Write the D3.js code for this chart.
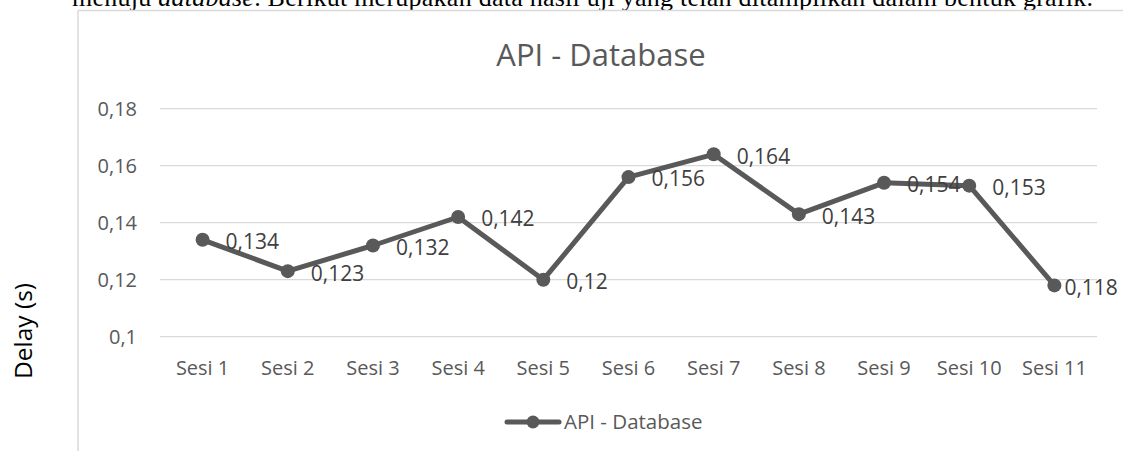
<!DOCTYPE html>
<html><head><meta charset="utf-8">
<script src="https://cdn.jsdelivr.net/npm/d3@7"></script>
<style>
html,body{margin:0;padding:0;background:#fff;}
svg{display:block;}
</style></head>
<body>
<script>
const categories = ["Sesi 1","Sesi 2","Sesi 3","Sesi 4","Sesi 5","Sesi 6","Sesi 7","Sesi 8","Sesi 9","Sesi 10","Sesi 11"];
const values = [0.134,0.123,0.132,0.142,0.12,0.156,0.164,0.143,0.154,0.153,0.118];
const yTicks = [0.1,0.12,0.14,0.16,0.18];
const seriesName = "API - Database";
const chartTitle = "API - Database";
const yAxisTitle = "Delay (s)";

const W = 1123, H = 451;
const svg = d3.select("body").append("svg").attr("width", W).attr("height", H);
const grey = "#595959";
const font = "'Open Sans', 'Noto Sans', sans-serif";
const fmt = v => String(+v.toFixed(3)).replace(".", ",");

// cut-off paragraph text above chart
const para = svg.append("text").attr("x", 72).attr("y", 6)
  .attr("font-family", "'Liberation Serif','Times New Roman',serif")
  .attr("font-size", 26).attr("fill", "#000")
  .attr("textLength", 1021).attr("lengthAdjust", "spacing");
para.append("tspan").text("menuju ");
para.append("tspan").attr("font-style", "italic").text("database");
para.append("tspan").text(". Berikut merupakan data hasil uji yang telah ditampilkan dalam bentuk grafik.");

// chart border (left and top visible)
svg.append("line").attr("x1", 78).attr("x2", 78).attr("y1", 10.5).attr("y2", H).attr("stroke", "#d9d9d9").attr("stroke-width", 1.5);
svg.append("line").attr("x1", 78).attr("x2", W).attr("y1", 10.5).attr("y2", 10.5).attr("stroke", "#d9d9d9").attr("stroke-width", 1.5);

const x = d3.scaleBand().domain(categories).range([160, 1097]);
const y = d3.scaleLinear().domain([0.1, 0.18]).range([336.7, 108.7]);
const cx = d => x(d) + x.bandwidth() / 2;

// gridlines
svg.append("g").selectAll("line").data(yTicks).join("line")
  .attr("x1", 160).attr("x2", 1097)
  .attr("y1", d => y(d)).attr("y2", d => y(d))
  .attr("stroke", "#d9d9d9").attr("stroke-width", 1.3);

// y axis
const yAxis = svg.append("g").attr("transform", "translate(137,0)")
  .call(d3.axisLeft(y).tickValues(yTicks).tickSize(0).tickPadding(0).tickFormat(fmt));
yAxis.select(".domain").remove();
yAxis.selectAll("text").attr("font-family", font).attr("font-size", 20).attr("fill", grey);

// x axis
const xAxis = svg.append("g").attr("transform", "translate(0,368)")
  .call(d3.axisBottom(x).tickSize(0).tickPadding(0));
xAxis.select(".domain").remove();
xAxis.selectAll("text").attr("font-family", font).attr("font-size", 20).attr("fill", grey)
  .attr("y", 0).attr("dy", "0.35em");

// title
svg.append("text").attr("x", 601).attr("y", 66).attr("text-anchor", "middle")
  .attr("font-family", font).attr("font-size", 31).attr("fill", grey).text(chartTitle);

// y axis title
svg.append("text").attr("transform", "translate(23,331) rotate(-90)")
  .attr("text-anchor", "middle").attr("dy", "0.35em").attr("font-family", font).attr("font-size", 24.5)
  .attr("fill", "#000").text(yAxisTitle);

// line
const pts = categories.map((c, i) => ({c, v: values[i]}));
svg.append("path").datum(pts)
  .attr("d", d3.line().x(d => cx(d.c)).y(d => y(d.v)))
  .attr("fill", "none").attr("stroke", grey).attr("stroke-width", 5).attr("stroke-linejoin", "round");
svg.append("g").selectAll("circle").data(pts).join("circle")
  .attr("cx", d => cx(d.c)).attr("cy", d => y(d.v)).attr("r", 7).attr("fill", grey);

// data labels
svg.append("g").selectAll("text").data(pts).join("text")
  .attr("x", (d, i) => cx(d.c) + (i === pts.length - 1 ? 10 : 23))
  .attr("y", d => y(d.v) + 2).attr("dy", "0.35em")
  .attr("font-family", font).attr("font-size", 21).attr("fill", "#404040")
  .text(d => fmt(d.v));

// legend
const lg = svg.append("g");
lg.append("line").attr("x1", 507).attr("x2", 559).attr("y1", 422).attr("y2", 422)
  .attr("stroke", grey).attr("stroke-width", 5).attr("stroke-linecap", "round");
lg.append("circle").attr("cx", 533).attr("cy", 422).attr("r", 6.5).attr("fill", grey);
lg.append("text").attr("x", 564).attr("y", 422).attr("dy", "0.35em")
  .attr("font-family", font).attr("font-size", 20.5).attr("fill", grey).text(seriesName);
</script>
</body></html>
